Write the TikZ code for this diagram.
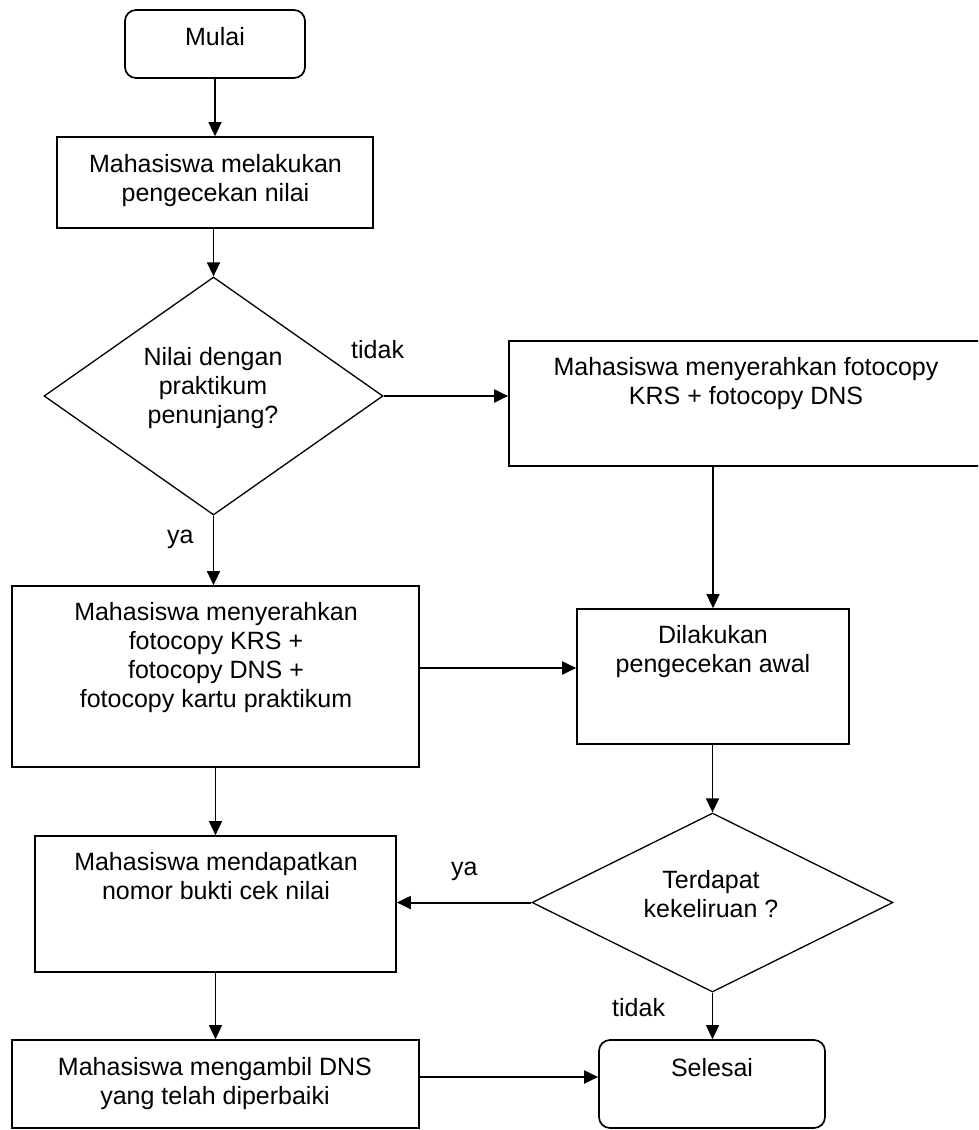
\documentclass[tikz,border=0pt]{standalone}
\usepackage{fontspec}
\setmainfont{Liberation Sans}
\usetikzlibrary{shapes.geometric,arrows.meta}
\begin{document}
\begin{tikzpicture}[x=1pt,y=-1pt,
  every node/.style={font=\fontsize{25}{29}\selectfont},
  box/.style={draw,line width=1.7pt,inner sep=0pt},
  rbox/.style={box,rounded corners=11pt},
  dec/.style={draw,diamond,line width=1.3pt,inner sep=0pt},
  txt/.style={align=center,inner sep=0pt,anchor=north},
  lbl/.style={inner sep=0pt,anchor=base west},
  arr/.style={line width=1.5pt,-{Triangle[width=13pt,length=14pt]}},
  harr/.style={arr,line width=2pt}]
\clip (0,0) rectangle (978,1130);
% shapes
\node[rbox,minimum width=180pt,minimum height=68pt] (m) at (215,44) {};
\node[box,minimum width=316pt,minimum height=91pt] (b1) at (215,182.5) {};
\node[dec,minimum width=339pt,minimum height=238pt] (d1) at (213.5,396) {};
\node[box,minimum width=474pt,minimum height=125pt] (b2) at (746,403.5) {};
\node[box,minimum width=407pt,minimum height=181pt] (b3) at (215.5,676.5) {};
\node[box,minimum width=272pt,minimum height=135pt] (b4) at (713,676.5) {};
\node[box,minimum width=361pt,minimum height=136pt] (b5) at (215.5,904) {};
\node[dec,minimum width=361pt,minimum height=179pt] (d2) at (712.5,902.5) {};
\node[box,minimum width=407pt,minimum height=88pt] (b6) at (215.5,1084) {};
\node[rbox,minimum width=226pt,minimum height=88pt] (s) at (712,1084) {};
% texts
\node[txt] (tm) at (215,27) {Mulai};
\node[txt] (t1) at (215.5,154) {Mahasiswa melakukan\\pengecekan nilai};
\node[txt] (td1) at (213,347) {Nilai dengan\\praktikum\\penunjang?};
\node[txt] (t2) at (746,357) {Mahasiswa menyerahkan fotocopy\\KRS + fotocopy DNS};
\node[txt] (t3) at (216,602) {Mahasiswa menyerahkan\\fotocopy KRS +\\fotocopy DNS +\\fotocopy kartu praktikum};
\node[txt] (t4) at (713,625) {Dilakukan\\pengecekan awal};
\node[txt] (t5) at (216,852) {Mahasiswa mendapatkan\\nomor bukti cek nilai};
\node[txt] (td2) at (711,870) {Terdapat\\kekeliruan ?};
\node[txt] (t6) at (215,1057) {Mahasiswa mengambil DNS\\yang telah diperbaiki};
\node[txt] (ts) at (712,1058) {Selesai};
% labels
\node[lbl] (l1) at (351,358) {tidak};
\node[lbl] (l2) at (167,543) {ya};
\node[lbl] (l3) at (451,875) {ya};
\node[lbl] (l4) at (612,1016) {tidak};
% connectors
\draw[arr] (m.south) -- (b1.north);
\draw[arr] (d1.north |- b1.south) -- (d1.north);
\draw[harr] (d1.east) -- (d1.east -| b2.west);
\draw[arr] (d1.south) -- (d1.south |- b3.north);
\draw[arr] (b4.north |- b2.south) -- (b4.north);
\draw[harr] ([yshift=8.5pt]b3.east) -- ([yshift=8.5pt]b4.west);
\draw[arr] (b3.south) -- (b5.north);
\draw[arr] (d2.north |- b4.south) -- (d2.north);
\draw[harr] (d2.west) -- (d2.west -| b5.east);
\draw[arr] (d2.south) -- (d2.south |- s.north);
\draw[arr] (b5.south) -- (b6.north);
\draw[harr] ([yshift=7pt]b6.east) -- ([yshift=7pt]s.west);
\end{tikzpicture}
\end{document}
